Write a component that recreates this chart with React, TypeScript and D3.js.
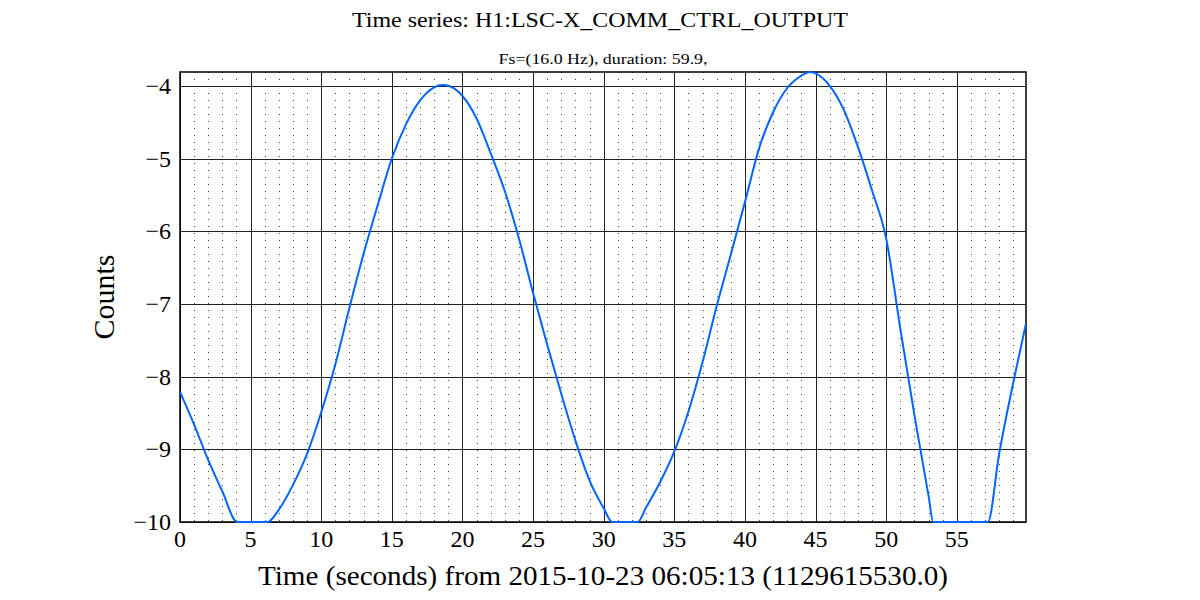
import React from 'react';
import * as d3 from 'd3';

// samples (seconds, counts); the signal sits at -10 on the flat parts
const times = [
  0, 1, 2, 3, 4.05, 5, 6.2, 7, 8, 9, 10, 11, 12, 13, 14, 15, 16, 17, 18, 18.6, 19,
  20, 21, 22, 23, 24, 25, 26, 27, 28, 29, 30, 30.6, 31.5, 32.4, 33, 34, 35, 36, 37, 38, 39,
  40, 41, 42, 43, 44, 44.6, 45, 46, 47, 48, 49, 50, 51, 52, 53, 53.33, 55, 57.2, 58, 59, 59.9,
];
const counts = [
  -8.21, -8.66, -9.15, -9.58, -10, -10, -10, -9.83, -9.49, -9.06, -8.49, -7.83, -7.05, -6.31, -5.64, -5.0, -4.53, -4.2, -4.02, -3.99, -4.0,
  -4.14, -4.45, -4.93, -5.45, -6.1, -6.85, -7.56, -8.24, -8.88, -9.43, -9.81, -10, -10, -10, -9.8, -9.45, -9.03, -8.48, -7.8, -7.03, -6.32,
  -5.6, -4.86, -4.36, -4.03, -3.86, -3.81, -3.83, -4.0, -4.33, -4.84, -5.44, -6.1, -7.34, -8.53, -9.64, -10, -10, -10, -9.06, -8.08, -7.27,
];

const xTicks = [0, 5, 10, 15, 20, 25, 30, 35, 40, 45, 50, 55];
const yTicks = [-10, -9, -8, -7, -6, -5, -4];

const title = 'Time series: H1:LSC-X_COMM_CTRL_OUTPUT';
const subtitle = 'Fs=(16.0 Hz), duration: 59.9,';
const xLabel = 'Time (seconds) from 2015-10-23 06:05:13 (1129615530.0)';
const yLabel = 'Counts';

const W = 1200;
const H = 600;
const m = { left: 180, right: 174, top: 72, bottom: 78 };
const font = '"Liberation Serif", "DejaVu Serif", serif';

export default function App() {
  const x = d3.scaleLinear().domain([0, 59.9]).range([m.left, W - m.right]);
  const y = d3.scaleLinear().domain([-10, -3.81]).range([H - m.bottom, m.top]);
  const px = (v: number) => Math.round(v) + 0.5;

  const pts = times.map((t, i) => [t, counts[i]] as [number, number]);
  const line = d3
    .line<[number, number]>()
    .x((d) => x(d[0]))
    .y((d) => y(d[1]))
    .curve(d3.curveMonotoneX);

  const minor = d3.range(1, 60).filter((t) => t % 5 !== 0);
  const fmt = (v: number) => (v < 0 ? '\u2212' + Math.abs(v) : String(v));

  return (
    <svg
      width={W}
      height={H}
      style={{ position: 'absolute', left: 0, top: 0, background: '#fff' }}
      fontFamily={font}
    >
      <defs>
        <clipPath id="plot">
          <rect x={m.left} y={m.top - 1} width={W - m.left - m.right} height={H - m.top - m.bottom + 2} />
        </clipPath>
      </defs>

      {minor.map((t) => (
        <line
          key={'mn' + t}
          x1={px(x(t))}
          x2={px(x(t))}
          y1={m.top}
          y2={H - m.bottom}
          stroke="#444"
          strokeWidth={1}
          strokeDasharray="1,6"
        />
      ))}
      {xTicks.map((t) => (
        <line key={'gx' + t} x1={px(x(t))} x2={px(x(t))} y1={m.top} y2={H - m.bottom} stroke="#222" strokeWidth={1} />
      ))}
      {yTicks.map((v) => (
        <line key={'gy' + v} x1={m.left} x2={W - m.right} y1={px(y(v))} y2={px(y(v))} stroke="#222" strokeWidth={1} />
      ))}

      <rect
        x={m.left}
        y={m.top}
        width={W - m.left - m.right}
        height={H - m.top - m.bottom}
        fill="none"
        stroke="#000"
        strokeWidth={1.5}
      />

      <path d={line(pts) || ''} fill="none" stroke="#0066ff" strokeWidth={2} clipPath="url(#plot)" />

      {xTicks.map((t) => (
        <text key={'tx' + t} x={x(t)} y={H - m.bottom + 25} fontSize={24} textAnchor="middle">
          {fmt(t)}
        </text>
      ))}
      {yTicks.map((v) => (
        <text key={'ty' + v} x={m.left - 9} y={y(v) + 8} fontSize={24} textAnchor="end">
          {fmt(v)}
        </text>
      ))}

      <text x={600} y={27} fontSize={21} textAnchor="middle" textLength={496} lengthAdjust="spacingAndGlyphs">
        {title}
      </text>
      <text x={603} y={64} fontSize={14} textAnchor="middle" textLength={209} lengthAdjust="spacingAndGlyphs">
        {subtitle}
      </text>
      <text x={603} y={585} fontSize={28} textAnchor="middle" textLength={690} lengthAdjust="spacingAndGlyphs">
        {xLabel}
      </text>
      <text
        transform={`translate(114, ${(m.top + H - m.bottom) / 2}) rotate(-90)`}
        fontSize={30}
        textAnchor="middle"
        textLength={85}
        lengthAdjust="spacingAndGlyphs"
      >
        {yLabel}
      </text>
    </svg>
  );
}
